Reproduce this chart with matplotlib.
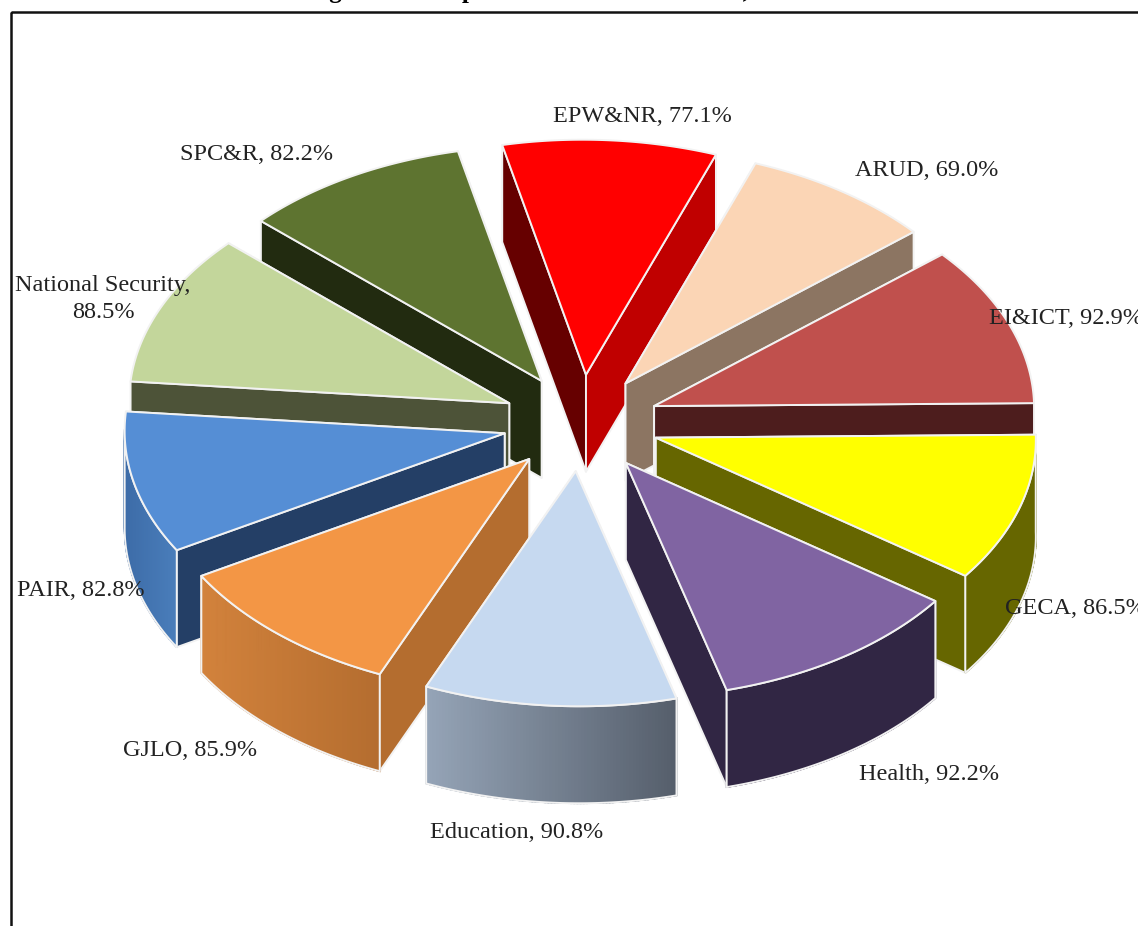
import numpy as np
import matplotlib
matplotlib.use("Agg")
import matplotlib.pyplot as plt
from matplotlib.colors import to_rgb
from matplotlib.patches import Polygon, Rectangle

plt.rcParams['font.family'] = ['Liberation Serif', 'DejaVu Serif']

# data, clockwise from the top slice
sectors = ["EPW&NR", "ARUD", "EI&ICT", "GECA", "Health", "Education",
           "GJLO", "PAIR", "National Security", "SPC&R"]
scores = [77.1, 69.0, 92.9, 86.5, 92.2, 90.8, 85.9, 82.8, 88.5, 82.2]

# colours of the faces
top_colors = ["#FF0000", "#FBD5B5", "#C0504D", "#FFFF00", "#8064A2",
              "#C6D9F0", "#F39645", "#558ED5", "#C3D69B", "#5E7430"]
wall_start = ["#660000", "#8C7562", "#4D1D1D", "#666600", "#312644",
              "#8393A6", "#B46D2F", "#243F66", "#4D5338", "#222B10"]
wall_end = ["#C00000", "#8C7562", "#4D1D1D", "#666600", "#312644",
            "#555E6B", "#B46D2F", "#243F66", "#4D5338", "#222B10"]
rim_from = ["#C00000", "#8C7562", "#4D1D1D", "#666600", "#312644",
            "#555E6B", "#B46D2F", "#4A7EBB", "#4D5338", "#222B10"]
rim_to = ["#C00000", "#8C7562", "#4D1D1D", "#666600", "#312644",
          "#95A4B7", "#D2823C", "#3D6CA8", "#4D5338", "#222B10"]

# label placement in pixels
label_text = ["EPW&NR, 77.1%", "ARUD, 69.0%", "EI&ICT, 92.9%", "GECA, 86.5%",
              "Health, 92.2%", "Education, 90.8%", "GJLO, 85.9%", "PAIR, 82.8%",
              "National Security,\n88.5%", "SPC&R, 82.2%"]
label_x = [642, 927, 1066, 1075, 929, 517, 190, 81, 103, 257]
label_y = [116, 171, 319, 608, 775, 832, 750, 590, 299, 155]

# pie geometry in pixels
cx, cy = 581, 423
rx, ry = 380, 235
explode = 0.206
depth = 97
start_angle = -12.2
skew = 0.015  # the source has a slight tilt, top leans left


def ell(phi):
    a = np.radians(phi)
    return rx * np.sin(a), -ry * np.cos(a)


fig = plt.figure(figsize=(11.38, 9.26), dpi=100)
ax = fig.add_axes([0, 0, 1, 1])
ax.set_xlim(0, 1138)
ax.set_ylim(926, 0)
ax.axis("off")

# frame runs off the right and the bottom of the picture
ax.add_patch(Rectangle((11, 12), 1300, 1100, fill=False, ec="#111111", lw=1.8))

# only the descenders of the caption survive, the wording is a guess
ax.text(307, -2, "Figure 2: Compliance Rate of All Sectors, 2021", fontsize=18,
        fontweight="bold", ha="left", va="baseline", color="black")

spans = np.array(scores) / sum(scores) * 360
starts = start_angle + np.concatenate([[0], np.cumsum(spans)[:-1]])

slices = []
for i in range(len(scores)):
    mid = starts[i] + spans[i] / 2
    ox, oy = ell(mid)
    slices.append((cy + explode * oy, i, cx + explode * ox))

edge = dict(ec="#F2F2F2", lw=1.4, joinstyle="round")

# back slices first so the front ones cover them
for ay, i, ax_x in sorted(slices):
    phi = np.linspace(starts[i], starts[i] + spans[i], 80)
    px, py = ell(phi)
    py = ay + py
    px = ax_x + px + skew * (py - cy)
    ax_x = ax_x + skew * (ay - cy)

    walls = [(px[0], py[0], wall_start[i]), (px[-1], py[-1], wall_end[i])]
    walls.sort(key=lambda w: w[1])
    for wx, wy, col in walls:
        ax.add_patch(Polygon([(ax_x, ay), (wx, wy), (wx, wy + depth), (ax_x, ay + depth)],
                             fc=col, **edge))

    # rim, only the part on the near side of the ellipse
    keep = np.cos(np.radians(phi)) <= 0.02
    if keep.sum() > 1:
        kx, ky = px[keep], py[keep]
        c0, c1 = np.array(to_rgb(rim_from[i])), np.array(to_rgb(rim_to[i]))
        left, right = kx.min(), kx.max()
        for j in range(len(kx) - 1):
            t = ((kx[j] + kx[j + 1]) / 2 - left) / (right - left)
            col = c1 + (c0 - c1) * t
            ax.add_patch(Polygon([(kx[j], ky[j]), (kx[j + 1], ky[j + 1]),
                                  (kx[j + 1], ky[j + 1] + depth), (kx[j], ky[j] + depth)],
                                 fc=col, ec=col, lw=1.2))
        ax.add_patch(Polygon(np.r_[np.c_[kx, ky], np.c_[kx[::-1], ky[::-1] + depth]],
                             fill=False, **edge))

    ax.add_patch(Polygon(np.r_[[[ax_x, ay]], np.c_[px, py]], fc=top_colors[i], **edge))

for txt, x, y in zip(label_text, label_x, label_y):
    ax.text(x, y, txt, fontsize=17.5, ha="center", va="center", color="#222222",
            linespacing=1.4, clip_on=False)

fig.savefig("out.png", dpi=100)
